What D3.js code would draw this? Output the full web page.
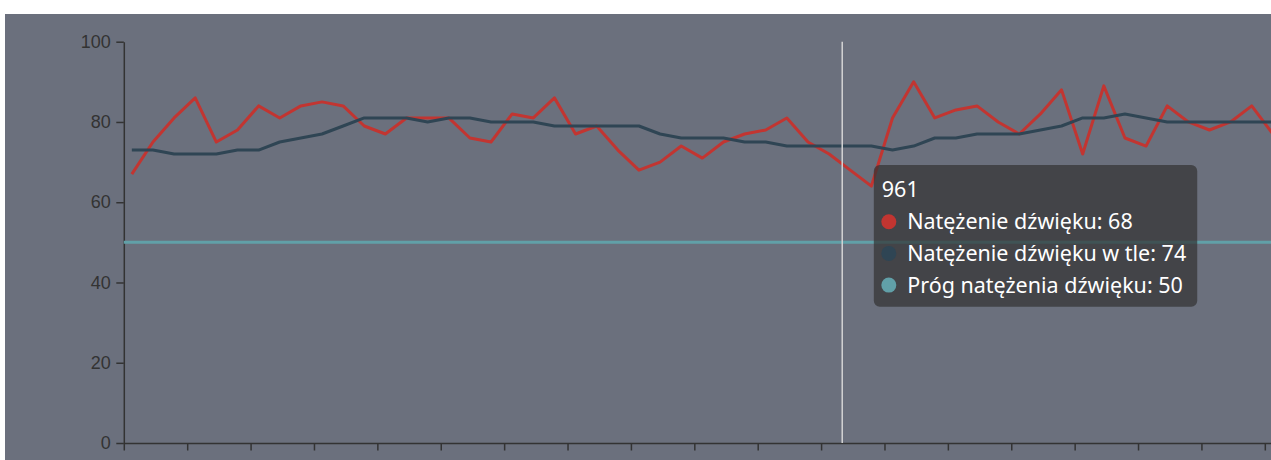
<!DOCTYPE html>
<html>
<head>
<meta charset="utf-8">
<script src="https://cdn.jsdelivr.net/npm/d3@7"></script>
<style>
  body { margin: 0; background: #fff; }
  svg { display: block; font-family: "Noto Sans", sans-serif; }
</style>
</head>
<body>
<script>
// DATA

// sample ids on the x axis
const categories = [927, 928, 929, 930, 931, 932, 933, 934, 935, 936, 937, 938, 939, 940,
                    941, 942, 943, 944, 945, 946, 947, 948, 949, 950, 951, 952, 953, 954,
                    955, 956, 957, 958, 959, 960, 961, 962, 963, 964, 965, 966, 967, 968,
                    969, 970, 971, 972, 973, 974, 975, 976, 977, 978, 979, 980, 981];

// sound level
const soundLevel = [67, 75, 81, 86, 75, 78, 84, 81, 84, 85, 84, 79, 77, 81,
                    81, 81, 76, 75, 82, 81, 86, 77, 79, 73, 68, 70, 74, 71,
                    75, 77, 78, 81, 75, 72, 68, 64, 81, 90, 81, 83, 84, 80,
                    77, 82, 88, 72, 89, 76, 74, 84, 80, 78, 80, 84, 77];

// background sound level
const backgroundLevel = [73, 73, 72, 72, 72, 73, 73, 75, 76, 77, 79, 81, 81, 81,
                         80, 81, 81, 80, 80, 80, 79, 79, 79, 79, 79, 77, 76, 76,
                         76, 75, 75, 74, 74, 74, 74, 74, 73, 74, 76, 76, 77, 77,
                         77, 78, 79, 81, 81, 82, 81, 80, 80, 80, 80, 80, 80];

// threshold
const thresholdLevel = 50;

const yTicks = [0, 20, 40, 60, 80, 100];
const seriesNames = ['Natężenie dźwięku', 'Natężenie dźwięku w tle', 'Próg natężenia dźwięku'];
const seriesColors = ['#c23531', '#2f4554', '#61a0a8'];

// the sample under the mouse
const hovered = 961;

// SETUP

const svg = d3.select('body')
              .append('svg')
              .attr('width', 1271)
              .attr('height', 460);

// grey panel behind the chart
svg.append('rect')
   .attr('x', 5)
   .attr('y', 14)
   .attr('width', 1266)
   .attr('height', 446)
   .attr('fill', '#6b707d');

const margin = {top: 41.7, left: 123.8};
const step = 21.13;                            // px per sample
const graphWidth = step * categories.length;   // runs past the right edge, like the original
const graphHeight = 443 - margin.top;
const pointOffset = 0.38;                      // where a sample sits inside its slot

const graph = svg.append('g')
                 .attr('transform', `translate(${margin.left}, ${margin.top})`);

// scales
const x = d3.scaleLinear()
            .domain([0, categories.length])
            .range([0, graphWidth]);

const y = d3.scaleLinear()
            .domain([0, 100])
            .range([graphHeight, 0]);

// axis (x labels sit below the visible area, so none are drawn)
const axeX = d3.axisBottom(x)
               .tickValues(d3.range(0, categories.length + 1, 3))
               .tickSize(7.5)
               .tickSizeOuter(0)
               .tickFormat('');

const axeY = d3.axisLeft(y)
               .tickValues(yTicks)
               .tickSize(7.5)
               .tickSizeOuter(0)
               .tickPadding(5.5);

const groupeX = graph.append('g')
                     .attr('transform', `translate(0, ${graphHeight})`)
                     .call(axeX);
const groupeY = graph.append('g')
                     .call(axeY);

[groupeX, groupeY].forEach(g => {
  g.selectAll('path, line').attr('stroke', '#333').attr('stroke-width', 1.5);
  g.selectAll('text').attr('fill', '#333').style('font-size', '18px');
});

// threshold line (full width)
graph.append('line')
     .attr('x1', 0)
     .attr('x2', graphWidth)
     .attr('y1', y(thresholdLevel))
     .attr('y2', y(thresholdLevel))
     .attr('stroke', seriesColors[2])
     .attr('stroke-width', 3);

// the two series
const line = d3.line()
               .x((d, i) => x(i + pointOffset))
               .y(d => y(d));

[soundLevel, backgroundLevel].forEach((values, s) => {
  graph.append('path')
       .datum(values)
       .attr('d', line)
       .attr('fill', 'none')
       .attr('stroke', seriesColors[s])
       .attr('stroke-width', 3)
       .attr('stroke-linejoin', 'round');
});

// TOOLTIP

const hi = categories.indexOf(hovered);

// crosshair
graph.append('line')
     .attr('x1', x(hi))
     .attr('x2', x(hi))
     .attr('y1', 0)
     .attr('y2', graphHeight)
     .attr('stroke', '#d4d4d4')
     .attr('stroke-width', 1.5);

const tip = graph.append('g')
                 .attr('transform', `translate(${x(hi) + 31.6}, ${165 - margin.top})`);

tip.append('rect')
   .attr('width', 323.4)
   .attr('height', 141.7)
   .attr('rx', 6)
   .attr('fill', 'rgba(50,50,50,0.7)');

tip.append('text')
   .attr('x', 8)
   .attr('y', 31.5)
   .attr('fill', '#fff')
   .style('font-size', '21.5px')
   .text(hovered);

const tipValues = [soundLevel[hi], backgroundLevel[hi], thresholdLevel];

const rows = tip.selectAll('g.row')
                .data(seriesNames)
                .enter()
                .append('g')
                .attr('class', 'row')
                .attr('transform', (d, i) => `translate(0, ${56.7 + i * 31.7})`);

rows.append('circle')
    .attr('cx', 15)
    .attr('cy', 0)
    .attr('r', 7.5)
    .attr('fill', (d, i) => seriesColors[i]);

rows.append('text')
    .attr('x', 33.4)
    .attr('y', 7.5)
    .attr('fill', '#fff')
    .style('font-size', '21.5px')
    .text((d, i) => `${d}: ${tipValues[i]}`);
</script>
</body>
</html>
